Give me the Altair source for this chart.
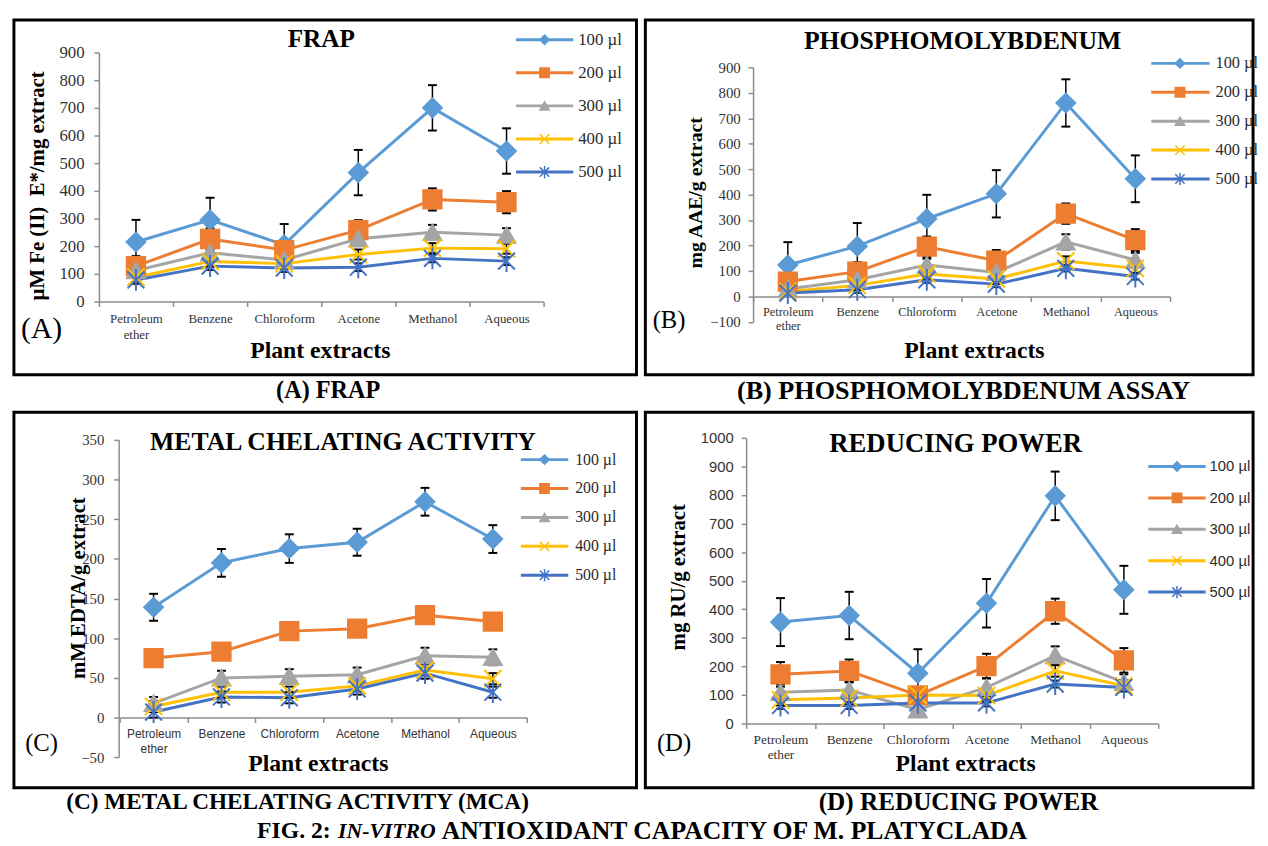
import altair as alt
import pandas as pd

SERIF = "Liberation Serif"
SANS = "Liberation Sans"

cats = ["Petroleum ether", "Benzene", "Chloroform", "Acetone", "Methanol", "Aqueous"]
series = ["100 µl", "200 µl", "300 µl", "400 µl", "500 µl"]
colors = ["#5B9BD5", "#ED7D31", "#A5A5A5", "#FFC000", "#4472C4"]
shapes = ["diamond", "square", "triangle-up",
          "M-1,-1L1,1M-1,1L1,-1",
          "M-1,-1L1,1M-1,1L1,-1M0,-1.3L0,1.3"]
marker_sizes = [361, 289, 225, 150, 196]

# (A) FRAP
frap_vals = [
    [215, 295, 205, 466, 700, 544],
    [128, 226, 186, 258, 369, 359],
    [112, 176, 150, 227, 250, 240],
    [88, 145, 137, 170, 193, 191],
    [78, 128, 121, 124, 156, 146],
]
frap_errs = [
    [80, 80, 75, 82, 82, 82],
    [36, 38, 35, 36, 40, 40],
    [25, 25, 25, 25, 27, 25],
    [18, 18, 18, 18, 18, 18],
    [14, 14, 14, 14, 14, 14],
]
frap_ticks = [0, 100, 200, 300, 400, 500, 600, 700, 800, 900]

# (B) Phosphomolybdenum
phos_vals = [
    [123, 197, 305, 403, 760, 462],
    [58, 97, 195, 140, 325, 221],
    [29, 65, 123, 94, 214, 143],
    [19, 43, 88, 68, 139, 110],
    [13, 26, 65, 48, 110, 78],
]
phos_errs = [
    [90, 91, 94, 93, 93, 92],
    [30, 37, 40, 42, 40, 43],
    [25, 25, 25, 25, 30, 28],
    [18, 18, 18, 18, 18, 18],
    [12, 12, 12, 12, 12, 12],
]
phos_ticks = [-100, 0, 100, 200, 300, 400, 500, 600, 700, 800, 900]

# (C) Metal chelating activity
mca_vals = [
    [139, 195, 213, 221, 272, 225],
    [75, 83, 109, 112, 129, 121],
    [18, 50, 52, 54, 78, 76],
    [14, 32, 32, 40, 60, 49],
    [7, 26, 25, 36, 56, 32],
]
mca_errs = [
    [17, 17.5, 18, 17, 17.5, 17.5],
    [3, 3, 3, 3, 3, 3],
    [8, 9, 9, 9, 10, 10],
    [7, 7, 7, 7, 7, 7],
    [7, 7, 7, 7, 7, 7],
]
mca_ticks = [-50, 0, 50, 100, 150, 200, 250, 300, 350]

# (D) Reducing power
rp_vals = [
    [355, 378, 176, 421, 797, 468],
    [172, 184, 98, 201, 393, 221],
    [109, 117, 48, 126, 238, 144],
    [83, 89, 100, 98, 184, 132],
    [63, 63, 72, 72, 138, 126],
]
rp_errs = [
    [84, 83, 84, 85, 85, 84],
    [43, 40, 20, 43, 44, 43],
    [28, 28, 20, 32, 32, 28],
    [20, 20, 20, 20, 20, 20],
    [12, 12, 12, 12, 12, 12],
]
rp_ticks = [0, 100, 200, 300, 400, 500, 600, 700, 800, 900, 1000]

titles = ["FRAP", "PHOSPHOMOLYBDENUM", "METAL CHELATING ACTIVITY", "REDUCING POWER"]
y_titles = ["µM Fe (II)\u00a0 E*/mg extract", "mg AAE/g extract", "mM EDTA/g extract", "mg RU/g extract"]
tags = ["(A)", "(B)", "(C)", "(D)"]
x_title = "Plant extracts"
captions = ["(A) FRAP", "(B) PHOSPHOMOLYBDENUM ASSAY",
            "(C) METAL CHELATING ACTIVITY (MCA)", "(D) REDUCING POWER"]
fig_caption = ["FIG. 2:", "IN-VITRO", "ANTIOXIDANT CAPACITY OF M. PLATYCLADA"]


def long_df(vals, errs):
    rows = []
    for s, v, e in zip(series, vals, errs):
        for i, (c, vi, ei) in enumerate(zip(cats, v, e)):
            rows.append(dict(cat=c, idx=i, series=s, value=vi, lo=vi - ei, hi=vi + ei))
    return pd.DataFrame(rows)


leg_df = pd.DataFrame({"series": series, "row": list(range(len(series)))})

color_enc = alt.Color("series:N", scale=alt.Scale(domain=series, range=colors), legend=None)
stroke_enc = alt.Stroke("series:N", scale=alt.Scale(domain=series, range=colors), legend=None)
shape_enc = alt.Shape("series:N", scale=alt.Scale(domain=series, range=shapes), legend=None)
size_enc = alt.Size("series:O", scale=alt.Scale(domain=series, range=marker_sizes), legend=None)


def txt(s, x, y, size, bold=True, font=SERIF, angle=0, italic=False, align="center"):
    return alt.Chart(pd.DataFrame({"t": [s]})).mark_text(
        font=font, fontSize=size, fontWeight="bold" if bold else "normal",
        fontStyle="italic" if italic else "normal", angle=angle, align=align,
        baseline="middle", color="black"
    ).encode(x=alt.value(x), y=alt.value(y), text="t:N")


def panel(df, P):
    yscale = alt.Scale(domain=P["ydom"], range=P["yrange"], nice=False, zero=False)
    yaxis = alt.Axis(values=P["yticks"], offset=P["yoff"], tickSize=5, tickColor="#8c8c8c",
                     tickWidth=1.5, domainColor="#8c8c8c", domainWidth=1.5, format="d",
                     labelFont=P["ylf"], labelFontSize=P["ylfs"], labelColor="#333333",
                     labelPadding=P["ylp"], grid=False, title=None, labelOverlap=False)
    xscale = alt.Scale(type="band", domain=cats, range=P["xrange"], paddingInner=0, paddingOuter=0)
    xaxis = alt.Axis(offset=P["xoff"], tickBand="extent", tickSize=5, tickColor="#8c8c8c",
                     tickWidth=1.5, domainColor="#8c8c8c", domainWidth=1.5,
                     labelFont=P["xlf"], labelFontSize=P["xlfs"], labelColor="#333333",
                     labelPadding=P["xlp"], labelAngle=0, labelLineHeight=P["xlh"],
                     labelExpr="datum.label == 'Petroleum ether' ? ['Petroleum', 'ether'] : datum.label",
                     grid=False, title=None)
    x = alt.X("cat:N", scale=xscale, axis=xaxis)

    def y(f):
        return alt.Y(f"{f}:Q", scale=yscale, axis=yaxis)

    base = alt.Chart(df)
    lines = base.mark_line(strokeWidth=3).encode(x=x, y=y("value"), color=color_enc, order="idx:Q")
    rules = base.mark_rule(color="black", strokeWidth=1.5).encode(x=x, y=y("lo"), y2="hi:Q")
    cap_hi = base.mark_tick(color="black", thickness=2, size=9, opacity=1).encode(x=x, y=y("hi"))
    cap_lo = base.mark_tick(color="black", thickness=2, size=9, opacity=1).encode(x=x, y=y("lo"))
    points = base.mark_point(filled=True, strokeWidth=2, opacity=1).encode(
        x=x, y=y("value"), color=color_enc, stroke=stroke_enc, shape=shape_enc, size=size_enc)
    data_layer = alt.layer(lines, rules, cap_hi, cap_lo, points)

    ly = alt.Y("row:Q", scale=alt.Scale(domain=[0, len(series) - 1], range=[P["ly0"], P["ly1"]],
                                         nice=False, zero=False), axis=None)
    leg = alt.Chart(leg_df)
    leg_rule = leg.mark_rule(strokeWidth=3).encode(
        x=alt.value(P["lx0"]), x2=alt.value(P["lx1"]), y=ly, color=color_enc)
    leg_pt = leg.mark_point(filled=True, strokeWidth=1.5, size=90, opacity=1).encode(
        x=alt.value(P["lxm"]), y=ly, color=color_enc, stroke=stroke_enc, shape=shape_enc)
    leg_txt = leg.mark_text(align="left", baseline="middle", font=P["lf"], fontSize=P["lfs"],
                            color="#2b2b2b").encode(x=alt.value(P["lxt"]), y=ly, text="series:N")
    legend_layer = alt.layer(leg_rule, leg_pt, leg_txt)

    texts = [
        txt(P["title"], P["tx"], P["ty"], P["tfs"]),
        txt(P["ytitle"], P["ytx"], P["yty"], P["ytfs"], angle=270),
        txt(P["tag"], P["gx"], P["gy"], P["gfs"], bold=False),
        txt(x_title, P["xtx"], P["xty"], 24),
    ]
    return alt.layer(data_layer, legend_layer, *texts).resolve_scale(y="independent").properties(
        width=P["w"], height=P["h"], view={"stroke": "black", "strokeWidth": 3})


PA = dict(w=630, h=359, ydom=[0, 900], yrange=[285, 33], yticks=frap_ticks,
          xrange=[86, 536], xoff=-74, yoff=-86,
          ylf=SERIF, ylfs=17, ylp=10, xlf=SERIF, xlfs=13, xlp=6, xlh=16,
          lx0=508, lx1=566, lxm=537, lxt=571, ly0=20, ly1=154, lf=SERIF, lfs=17,
          title=titles[0], tx=311, ty=19, tfs=25.5,
          ytitle=y_titles[0], ytx=24, yty=168, ytfs=21,
          tag=tags[0], gx=28, gy=313, gfs=30,
          xtx=310, xty=335)
PB = dict(w=615, h=359, ydom=[-100, 900], yrange=[305.5, 48], yticks=phos_ticks,
          xrange=[109, 531], xoff=-79, yoff=-109,
          ylf=SERIF, ylfs=15, ylp=8, xlf=SERIF, xlfs=12.5, xlp=4, xlh=14,
          lx0=512, lx1=571, lxm=541, lxt=577, ly0=44, ly1=161, lf=SERIF, lfs=16.5,
          title=titles[1], tx=321, ty=21, tfs=26,
          ytitle=y_titles[1], ytx=51, yty=175, ytfs=20,
          tag=tags[1], gx=24, gy=304, gfs=25,
          xtx=333, xty=335)
PC = dict(w=630, h=380, ydom=[-50, 350], yrange=[349.2, 28], yticks=mca_ticks,
          xrange=[107, 519], xoff=-71, yoff=-106,
          ylf=SERIF, ylfs=15, ylp=10, xlf=SANS, xlfs=12, xlp=6, xlh=15,
          lx0=513, lx1=561, lxm=537, lxt=568, ly0=48, ly1=165, lf=SERIF, lfs=16,
          title=titles[2], tx=333, ty=30, tfs=26,
          ytitle=y_titles[2], ytx=66, yty=178, ytfs=21,
          tag=tags[2], gx=28, gy=335, gfs=25,
          xtx=308, xty=356)
PD = dict(w=615, h=380, ydom=[0, 1000], yrange=[315, 26], yticks=rp_ticks,
          xrange=[102, 519], xoff=-65, yoff=-102,
          ylf=SANS, ylfs=15, ylp=8, xlf=SERIF, xlfs=13.5, xlp=4, xlh=15,
          lx0=509, lx1=567, lxm=538, lxt=571, ly0=55, ly1=182, lf=SANS, lfs=15,
          title=titles[3], tx=314, ty=32, tfs=27,
          ytitle=y_titles[3], ytx=34, yty=167, ytfs=21,
          tag=tags[3], gx=29, gy=335, gfs=25,
          xtx=324, xty=356)

A = panel(long_df(frap_vals, frap_errs), PA)
B = panel(long_df(phos_vals, phos_errs), PB)
C = panel(long_df(mca_vals, mca_errs), PC)
D = panel(long_df(rp_vals, rp_errs), PD)

capA = alt.layer(txt(captions[0], 318, 17, 24.5)).properties(width=630, height=38)
capB = alt.layer(txt(captions[1], 322, 17, 26.5)).properties(width=615, height=38)
capC = alt.layer(
    txt(captions[2], 287, 15, 23.5),
    txt(fig_caption[0], 246, 44, 24, align="left"),
    txt(fig_caption[1], 328, 44, 22, italic=True, align="left"),
    txt(fig_caption[2], 433, 44, 26, align="left"),
).properties(width=630, height=56)
capD = alt.layer(txt(captions[3], 317, 15, 25.5)).properties(width=615, height=56)

chart = alt.concat(A, B, capA, capB, C, D, capC, capD, columns=2,
                   spacing={"row": 0, "column": 9}, bounds="flush").properties(
    padding={"left": 4, "top": 5, "right": 0, "bottom": 0}
).configure_view(stroke="transparent")

chart.save("out.html", embed_options={"renderer": "svg", "actions": False})
